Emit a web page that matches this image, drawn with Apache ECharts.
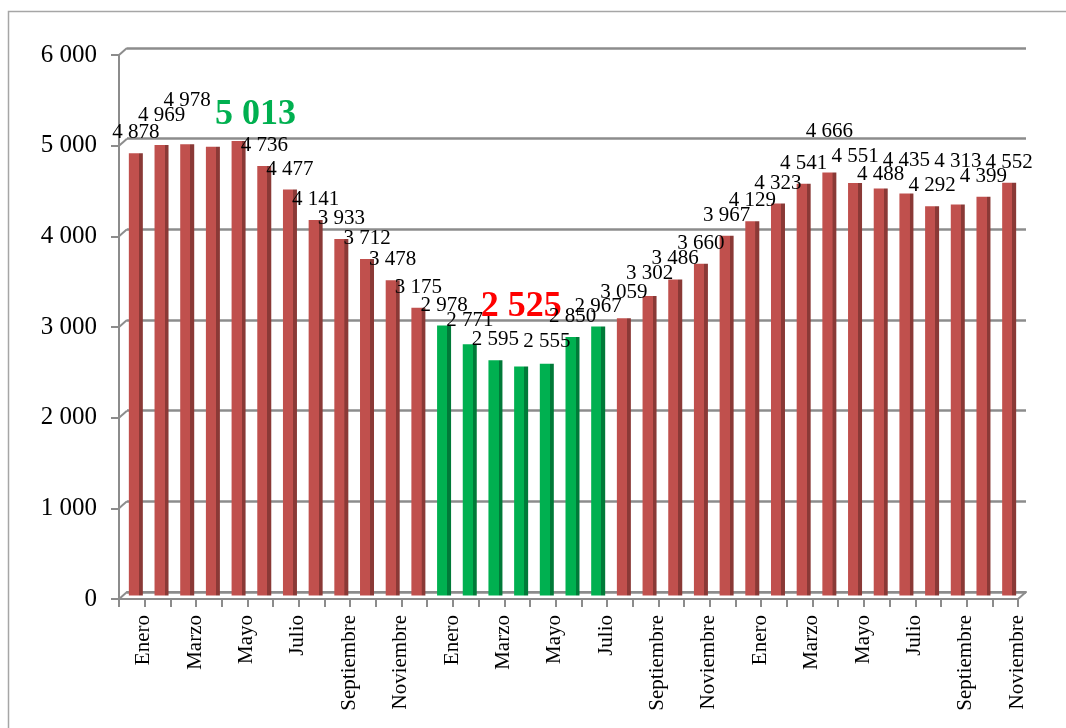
<!DOCTYPE html>
<html>
<head>
<meta charset="utf-8">
<script src="https://cdn.jsdelivr.net/npm/echarts@6/dist/echarts.min.js"></script>
<style>
html,body{margin:0;padding:0;background:#fff;}
#c{width:1066px;height:728px;}
</style>
</head>
<body>
<div id="c"></div>
<script>
// ---- data ----
var months = ['Enero','Febrero','Marzo','Abril','Mayo','Junio','Julio','Agosto','Septiembre','Octubre','Noviembre','Diciembre'];
var year1 = [4878, 4969, 4978, 4950, 5013, 4736, 4477, 4141, 3933, 3712, 3478, 3175];
var year2 = [2978, 2771, 2595, 2525, 2555, 2850, 2967, 3059, 3302, 3486, 3660, 3967];
var year3 = [4129, 4323, 4541, 4666, 4551, 4488, 4435, 4292, 4313, 4399, 4552];
var yTicks = [0, 1000, 2000, 3000, 4000, 5000, 6000];

var categories = months.concat(months).concat(months.slice(0, year3.length));
var values = year1.concat(year2).concat(year3);

// ---- styling helpers (not data) ----
var greenFrom = 12, greenTo = 18;       // highlighted months (year 2, Enero..Julio)
var maxIdx = 4, minIdx = 15;            // emphasised labels
var hiddenLabel = {3: true};
var labelLift = {1: 9, 2: 23, 13: 3, 16: 2, 19: 5, 20: 2, 27: 20, 28: 6, 29: -6, 30: 12, 32: 22};

function fmt(v) { return String(v).replace(/\B(?=(\d{3})+(?!\d))/g, ' '); }
function grad(face, side) {
  return new echarts.graphic.LinearGradient(0, 0, 1, 0, [
    {offset: 0, color: face}, {offset: 0.72, color: face},
    {offset: 0.73, color: side}, {offset: 1, color: side}
  ]);
}
var redFill = grad('#C0504D', '#8A3936');
var greenFill = grad('#00B050', '#007A38');

var seriesData = values.map(function (v, i) {
  var green = i >= greenFrom && i <= greenTo;
  var item = {value: v, itemStyle: {color: green ? greenFill : redFill}};
  if (hiddenLabel[i]) {
    item.label = {show: false};
  } else if (i === maxIdx) {
    item.label = {fontSize: 36, fontWeight: 'bold', color: '#00B050', distance: 8, padding: [0, 0, 0, 34]};
  } else if (i === minIdx) {
    item.label = {fontSize: 36, fontWeight: 'bold', color: '#FF0000', distance: 42};
  } else if (labelLift[i]) {
    item.label = {distance: 10 + labelLift[i]};
  }
  return item;
});

var serif = 'Liberation Serif';
var gridColor = '#8C8C8C';

var chart = echarts.init(document.getElementById('c'), null, {renderer: 'canvas'});
var option = {
  animation: false,
  backgroundColor: '#fff',
  grid: [
    {left: 119, right: 48, top: 55, bottom: 129},     // front plane (axes, ticks)
    {left: 127, right: 40, top: 48, bottom: 136},     // back wall (gridlines)
    {left: 123, right: 44, top: 51.5, bottom: 132.5}, // bars (mid depth)
    {left: 131, right: 36, top: 48, bottom: 136}      // category labels
  ],
  xAxis: [
    {gridIndex: 0, type: 'category', data: categories,
     axisLine: {show: true, lineStyle: {color: gridColor, width: 2}},
     axisTick: {show: true, interval: 0, length: 8, lineStyle: {color: gridColor, width: 2}},
     axisLabel: {show: false}},
    {gridIndex: 1, type: 'category', data: categories,
     axisLine: {show: true, lineStyle: {color: gridColor, width: 2}},
     axisTick: {show: false}, axisLabel: {show: false}},
    {gridIndex: 2, type: 'category', data: categories, show: false},
    {gridIndex: 3, type: 'category', data: categories,
     axisLine: {show: false}, axisTick: {show: false},
     axisLabel: {show: true, interval: 1, rotate: 90, margin: 23, fontFamily: serif, fontSize: 21, color: '#000'}}
  ],
  yAxis: [
    {gridIndex: 0, type: 'value', min: 0, max: 6000, interval: 1000,
     axisLine: {show: true, lineStyle: {color: gridColor, width: 2}},
     axisTick: {show: true, length: 8, lineStyle: {color: gridColor, width: 2}},
     splitLine: {show: false},
     axisLabel: {margin: 22, fontFamily: serif, fontSize: 25, color: '#000', formatter: fmt}},
    {gridIndex: 1, type: 'value', min: 0, max: 6000, interval: 1000,
     axisLine: {show: false}, axisTick: {show: false}, axisLabel: {show: false},
     splitLine: {show: true, lineStyle: {color: gridColor, width: 2.5}}},
    {gridIndex: 2, type: 'value', min: 0, max: 6000, interval: 1000, show: false,
     splitLine: {show: false}},
    {gridIndex: 3, type: 'value', min: 0, max: 6000, interval: 1000, show: false,
     splitLine: {show: false}}
  ],
  series: [{
    type: 'bar', xAxisIndex: 2, yAxisIndex: 2,
    barWidth: 14,
    data: seriesData,
    label: {show: true, position: 'top', distance: 10, fontFamily: serif, fontSize: 21,
            color: '#000', formatter: function (p) { return fmt(p.value); }},
    labelLayout: {hideOverlap: false}
  }]
};
chart.setOption(option);

// 3D-style connectors between front axis ticks and the back wall, computed via the axes
var g = [];
var rA = chart.getModel().getComponent('grid', 0).coordinateSystem.getRect();
var rB = chart.getModel().getComponent('grid', 1).coordinateSystem.getRect();
yTicks.forEach(function (t) {
  var f = chart.convertToPixel({xAxisIndex: 0, yAxisIndex: 0}, [0, t]);
  var b = chart.convertToPixel({xAxisIndex: 1, yAxisIndex: 1}, [0, t]);
  g.push({type: 'line', shape: {x1: rA.x, y1: f[1], x2: rB.x, y2: b[1]},
          style: {stroke: gridColor, lineWidth: 2}, silent: true});
});
g.push({type: 'line', shape: {x1: rA.x + rA.width, y1: rA.y + rA.height, x2: rB.x + rB.width, y2: rB.y + rB.height},
        style: {stroke: gridColor, lineWidth: 2}, silent: true});
g.push({type: 'rect', shape: {x: 8.5, y: 11.5, width: 1100, height: 800},
        style: {fill: 'none', stroke: '#A6A6A6', lineWidth: 1.5}, silent: true, z: -1});
chart.setOption({graphic: g});
</script>
</body>
</html>
